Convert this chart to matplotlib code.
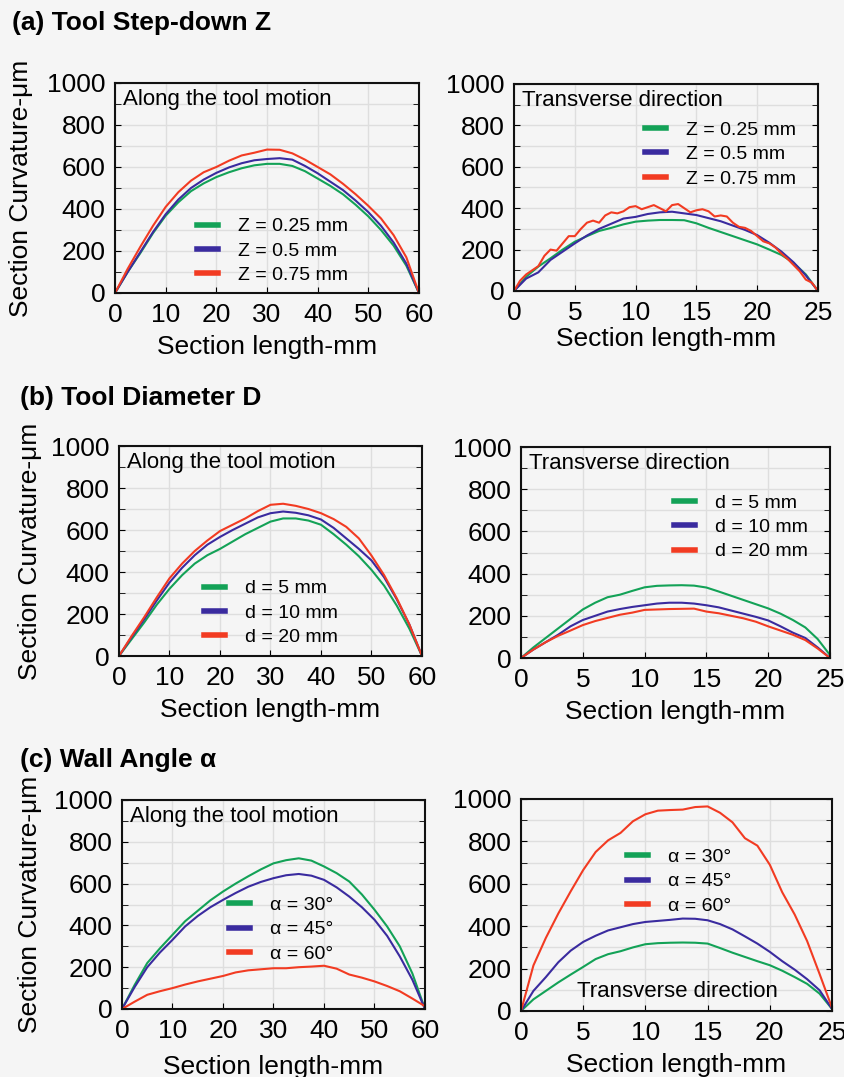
import numpy as np
import matplotlib
matplotlib.use('Agg')
import matplotlib.pyplot as plt
from matplotlib.ticker import MultipleLocator

plt.rcParams['font.family'] = ['Liberation Sans', 'DejaVu Sans']

# ---- data ----
x_along = [0, 2.5, 5, 7.5, 10, 12.5, 15, 17.5, 20, 22.5, 25, 27.5, 30,
           32.5, 35, 37.5, 40, 42.5, 45, 47.5, 50, 52.5, 55, 57.5, 60]
x_trans = list(range(26))
x_trans_fine = [i * 0.5 for i in range(51)]

# (a) tool step-down Z
a_along_z025 = [0, 100, 190, 285, 368, 432, 485, 522, 552, 575, 594, 608, 615,
                615, 605, 580, 545, 510, 470, 420, 365, 300, 225, 130, 0]
a_along_z05 = [0, 100, 195, 290, 375, 445, 500, 540, 572, 598, 618, 632, 638,
               642, 635, 605, 570, 530, 490, 440, 385, 320, 240, 140, 0]
a_along_z075 = [0, 115, 220, 320, 410, 480, 535, 575, 600, 630, 655, 668, 683,
                682, 665, 635, 600, 565, 520, 470, 415, 355, 275, 170, 0]
a_trans_z025 = [0, 69, 118, 158, 200, 238, 265, 290, 305, 322, 335, 340, 343,
                343, 342, 327, 305, 285, 265, 245, 225, 200, 174, 135, 80, 0]
a_trans_z05 = [0, 60, 90, 150, 190, 230, 268, 300, 325, 350, 358, 372, 380,
               383, 375, 367, 352, 337, 316, 295, 270, 233, 190, 138, 75, 0]
a_trans_z075 = [0, 50, 80, 100, 120, 170, 200, 195, 230, 265, 265, 300, 330,
                340, 330, 365, 380, 375, 385, 405, 410, 395, 405, 415, 400,
                385, 415, 420, 400, 380, 390, 395, 385, 360, 365, 360, 330,
                310, 305, 290, 265, 240, 230, 210, 180, 155, 125, 95, 55, 40, 0]

# (b) tool diameter D
b_along_d5 = [0, 80, 160, 245, 320, 385, 440, 480, 510, 545, 580, 610, 640,
              655, 655, 645, 625, 580, 530, 475, 410, 335, 240, 130, 0]
b_along_d10 = [0, 90, 175, 265, 350, 420, 480, 530, 567, 600, 630, 660, 680,
               688, 682, 670, 650, 610, 560, 510, 455, 375, 270, 150, 0]
b_along_d20 = [0, 95, 185, 280, 370, 440, 500, 550, 595, 625, 655, 690, 720,
               725, 715, 700, 680, 652, 615, 560, 478, 385, 275, 150, 0]
b_trans_d5 = [0, 50, 95, 140, 185, 230, 262, 288, 300, 318, 335, 342, 344,
              345, 343, 334, 315, 295, 275, 255, 235, 210, 180, 145, 90, 14]
b_trans_d10 = [0, 40, 75, 110, 150, 180, 200, 220, 232, 242, 250, 258, 262,
               262, 258, 250, 240, 225, 210, 195, 178, 150, 120, 95, 50, 0]
b_trans_d20 = [0, 40, 75, 105, 130, 156, 175, 190, 205, 215, 228, 230, 232,
               233, 234, 220, 212, 200, 188, 172, 150, 130, 110, 85, 45, 0]

# (c) wall angle alpha
c_along_a30 = [0, 115, 220, 290, 355, 420, 470, 520, 562, 600, 635, 668, 697,
               712, 721, 710, 682, 650, 610, 548, 475, 395, 300, 170, 0]
c_along_a45 = [0, 105, 200, 270, 331, 395, 445, 487, 522, 555, 585, 608, 626,
               640, 646, 638, 618, 582, 538, 487, 427, 350, 252, 140, 0]
c_along_a60 = [0, 35, 68, 85, 100, 117, 132, 145, 158, 175, 185, 190, 195,
               195, 200, 203, 207, 193, 165, 150, 132, 110, 85, 50, 13]
c_trans_a30 = [0, 55, 95, 135, 172, 208, 245, 268, 282, 300, 315, 320, 322,
               323, 322, 318, 297, 275, 255, 235, 216, 190, 160, 128, 82, 10]
c_trans_a45 = [0, 95, 160, 230, 285, 326, 355, 380, 395, 410, 420, 425, 430,
               436, 435, 428, 410, 385, 352, 318, 279, 235, 195, 150, 98, 10]
c_trans_a60 = [0, 215, 345, 460, 565, 665, 750, 805, 840, 895, 928, 945, 948,
               950, 962, 965, 935, 890, 815, 780, 690, 560, 455, 330, 175, 15]

GREEN = '#13a257'
BLUE = '#3a2b9f'
RED = '#f23b22'
BG = '#f5f5f5'

fig = plt.figure(figsize=(8.45, 10.77), dpi=100, facecolor=BG)


def px_axes(x0, y0, x1, y1):
    W, H = 845.0, 1077.0
    return fig.add_axes([x0 / W, 1 - y1 / H, (x1 - x0) / W, (y1 - y0) / H])


def style(ax, xmax, xstep, ylab, xlab_y):
    ax.set_facecolor(BG)
    ax.set_xlim(0, xmax)
    ax.set_ylim(0, 1000)
    ax.xaxis.set_major_locator(MultipleLocator(xstep))
    ax.yaxis.set_major_locator(MultipleLocator(200))
    ax.yaxis.set_minor_locator(MultipleLocator(100))
    ax.grid(True, which='major', axis='x', color='#dedede', lw=1)
    ax.grid(True, which='both', axis='y', color='#dedede', lw=1)
    ax.set_axisbelow(True)
    for s in ax.spines.values():
        s.set_linewidth(1.5)
        s.set_color('#111111')
    ax.tick_params(which='both', direction='in', right=True, labelsize=19,
                   pad=7, length=4)
    ax.tick_params(which='minor', length=4)
    ax.set_xlabel('Section length-mm', fontsize=19)
    ax.xaxis.set_label_coords(0.5, xlab_y)
    ax.xaxis.label.set_va('top')
    if ylab is not None:
        ax.set_ylabel('Section Curvature-μm', fontsize=19)
        ax.yaxis.set_label_coords(ylab, 0.5)


def add_legend(ax, labels, lines, x, ymid):
    leg = ax.legend(lines, labels, loc='center left', bbox_to_anchor=(x, ymid),
                    frameon=False, fontsize=14, handlelength=1.1,
                    handletextpad=1.0, labelspacing=0.35, borderpad=0,
                    borderaxespad=0)
    for ln in leg.get_lines():
        ln.set_linewidth(4)


def three(ax, xs, ys, labels, legx, legy):
    lines = []
    for xv, yv, c in zip(xs, ys, [GREEN, BLUE, RED]):
        ln, = ax.plot(xv, yv, color=c, lw=1.5)
        lines.append(ln)
    add_legend(ax, labels, lines, legx, legy)


z_labels = ['Z = 0.25 mm', 'Z = 0.5 mm', 'Z = 0.75 mm']
d_labels = ['d = 5 mm', 'd = 10 mm', 'd = 20 mm']
a_labels = ['α = 30°', 'α = 45°', 'α = 60°']

# row (a)
ax = px_axes(115, 83, 419, 293)
style(ax, 60, 10, -0.27, -0.20)
three(ax, [x_along] * 3, [a_along_z025, a_along_z05, a_along_z075],
      z_labels, 0.27, 0.20)
ax.text(0.025, 0.97, 'Along the tool motion', transform=ax.transAxes,
        fontsize=16, va='top', ha='left')

ax = px_axes(514, 84, 818, 291)
style(ax, 25, 5, None, -0.175)
three(ax, [x_trans, x_trans, x_trans_fine],
      [a_trans_z025, a_trans_z05, a_trans_z075], z_labels, 0.43, 0.66)
ax.text(0.025, 0.97, 'Transverse direction', transform=ax.transAxes,
        fontsize=16, va='top', ha='left')

# row (b)
ax = px_axes(119, 446, 422, 656)
style(ax, 60, 10, -0.254, -0.20)
three(ax, [x_along] * 3, [b_along_d5, b_along_d10, b_along_d20],
      d_labels, 0.28, 0.205)
ax.text(0.025, 0.97, 'Along the tool motion', transform=ax.transAxes,
        fontsize=16, va='top', ha='left')

ax = px_axes(521, 447, 830, 658)
style(ax, 25, 5, None, -0.20)
three(ax, [x_trans] * 3, [b_trans_d5, b_trans_d10, b_trans_d20],
      d_labels, 0.495, 0.62)
ax.text(0.025, 0.97, 'Transverse direction', transform=ax.transAxes,
        fontsize=16, va='top', ha='left')

# row (c)
ax = px_axes(122, 800, 425, 1009)
style(ax, 60, 10, -0.264, -0.22)
three(ax, [x_along] * 3, [c_along_a30, c_along_a45, c_along_a60],
      a_labels, 0.353, 0.38)
ax.text(0.025, 0.97, 'Along the tool motion', transform=ax.transAxes,
        fontsize=16, va='top', ha='left')

ax = px_axes(521, 799, 832, 1011)
style(ax, 25, 5, None, -0.20)
three(ax, [x_trans] * 3, [c_trans_a30, c_trans_a45, c_trans_a60],
      a_labels, 0.34, 0.61)
ax.text(0.18, 0.09, 'Transverse direction', transform=ax.transAxes,
        fontsize=16, va='center', ha='left')

# section titles
fig.text(12 / 845, 1 - 23 / 1077, '(a) Tool Step-down Z', fontsize=19,
         fontweight='bold', va='center', ha='left')
fig.text(20 / 845, 1 - 398 / 1077, '(b) Tool Diameter D', fontsize=19,
         fontweight='bold', va='center', ha='left')
fig.text(20 / 845, 1 - 760 / 1077, '(c) Wall Angle α', fontsize=19,
         fontweight='bold', va='center', ha='left')

fig.savefig('out.png', dpi=100, facecolor=BG)
